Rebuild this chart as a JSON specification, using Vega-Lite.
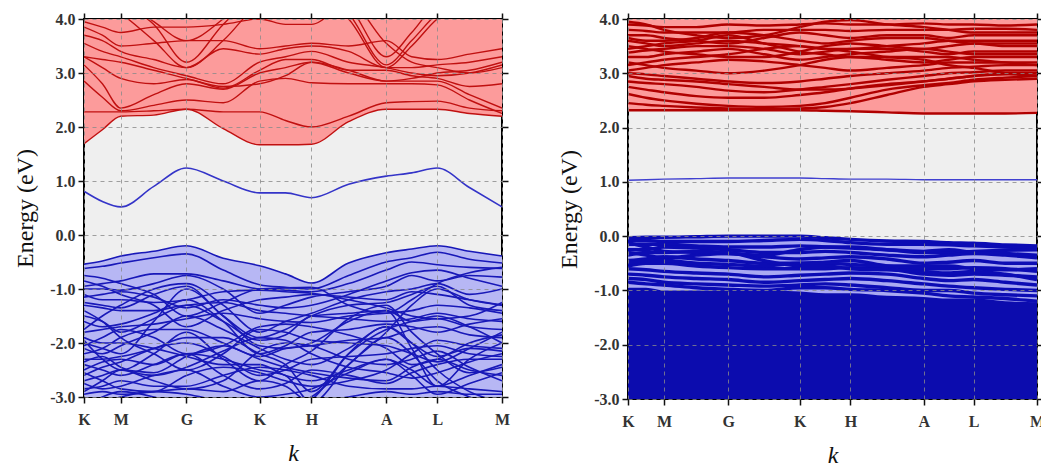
{
"$schema":"https://vega.github.io/schema/vega-lite/v6.json",
"padding":{"left":12,"top":10,"right":0,"bottom":0},
"spacing":45,
"config":{"view":{"stroke":"black","strokeWidth":2,"fill":"#efefef"},
"axis":{"labelFont":"Liberation Serif","titleFont":"Liberation Serif","labelColor":"#333","titleColor":"#111","tickColor":"#111","tickWidth":1.5,"tickSize":6,"domain":false}},
"datasets":{
"L":[
{"k":0,"c1":1.69,"c2":2.28,"c3":2.85,"c4":3.15,"c5":3.3,"c6":3.55,"c7":3.7,"c8":3.85,"c9":4.4,"c10":4.5,"c11":4.6,"c12":3.95,"c13":3.3,"m":0.81,"v1":-0.54,"v2":-0.62,"v3":-0.95,"v4":-1.0,"v5":-1.75,"v6":-1.25,"v7":-1.1,"v8":-1.3,"v9":-2.0,"v10":-2.1,"v11":-2.3,"v12":-2.5,"v13":-1.9,"v14":-2.7,"v15":-2.85,"v16":-2.95,"v17":-1.5,"v18":-1.8,"v19":-2.2,"v20":-2.6,"v21":-3.2,"v22":-3.2,"v23":-0.75,"v24":-2.4,"v25":-1.4,"v26":-2.9,"v27":-0.85,"v28":-1.6,"v29":-2.05,"v30":-2.35,"v31":-2.75,"v32":-1.15,"v33":-1.95,"v34":-2.55},
{"k":0.044,"c1":1.95,"c2":2.28,"c3":2.55,"c4":2.8,"c5":3.1,"c6":3.4,"c7":3.6,"c8":3.7,"c9":4.3,"c10":4.4,"c11":4.5,"c12":3.85,"c13":3.25,"m":0.62,"v1":-0.48,"v2":-0.58,"v3":-0.9,"v4":-1.0,"v5":-1.5,"v6":-1.3,"v7":-1.2,"v8":-1.35,"v9":-2.1,"v10":-2.2,"v11":-2.3,"v12":-2.35,"v13":-2.0,"v14":-2.6,"v15":-2.8,"v16":-2.9,"v17":-1.6,"v18":-1.75,"v19":-2.1,"v20":-2.45,"v21":-3.0,"v22":-3.1,"v23":-0.8,"v24":-2.5,"v25":-1.6,"v26":-2.7,"v27":-0.95,"v28":-1.7,"v29":-1.9,"v30":-2.25,"v31":-2.85,"v32":-1.1,"v33":-2.3,"v34":-2.7},
{"k":0.088,"c1":2.2,"c2":2.28,"c3":2.3,"c4":2.35,"c5":2.9,"c6":3.3,"c7":3.4,"c8":3.5,"c9":4.1,"c10":4.3,"c11":4.4,"c12":3.75,"c13":3.2,"m":0.52,"v1":-0.39,"v2":-0.52,"v3":-0.85,"v4":-1.02,"v5":-1.3,"v6":-1.35,"v7":-1.2,"v8":-1.4,"v9":-2.2,"v10":-2.05,"v11":-2.25,"v12":-2.3,"v13":-2.0,"v14":-2.5,"v15":-2.7,"v16":-2.95,"v17":-1.8,"v18":-1.7,"v19":-1.9,"v20":-2.35,"v21":-2.9,"v22":-3.0,"v23":-0.9,"v24":-2.6,"v25":-1.9,"v26":-2.5,"v27":-1.1,"v28":-1.65,"v29":-1.75,"v30":-2.45,"v31":-2.8,"v32":-1.05,"v33":-2.5,"v34":-2.85},
{"k":0.167,"c1":2.22,"c2":2.3,"c3":2.4,"c4":2.6,"c5":2.8,"c6":3.1,"c7":3.25,"c8":3.55,"c9":3.6,"c10":3.9,"c11":3.95,"c12":3.85,"c13":3.05,"m":0.9,"v1":-0.3,"v2":-0.42,"v3":-0.72,"v4":-0.9,"v5":-1.0,"v6":-1.1,"v7":-1.25,"v8":-1.4,"v9":-1.6,"v10":-1.8,"v11":-2.1,"v12":-2.4,"v13":-2.1,"v14":-2.55,"v15":-2.8,"v16":-2.9,"v17":-1.55,"v18":-1.65,"v19":-1.75,"v20":-2.1,"v21":-3.0,"v22":-2.9,"v23":-1.1,"v24":-2.4,"v25":-2.2,"v26":-2.7,"v27":-1.3,"v28":-1.45,"v29":-1.9,"v30":-2.6,"v31":-2.6,"v32":-1.15,"v33":-2.2,"v34":-2.9},
{"k":0.245,"c1":2.33,"c2":2.33,"c3":2.5,"c4":2.8,"c5":2.88,"c6":2.95,"c7":3.1,"c8":3.6,"c9":3.1,"c10":3.2,"c11":3.6,"c12":3.85,"c13":2.9,"m":1.24,"v1":-0.2,"v2":-0.35,"v3":-0.72,"v4":-0.75,"v5":-0.9,"v6":-0.95,"v7":-1.2,"v8":-1.3,"v9":-1.0,"v10":-1.5,"v11":-1.9,"v12":-2.2,"v13":-2.25,"v14":-2.25,"v15":-2.8,"v16":-2.85,"v17":-1.3,"v18":-1.55,"v19":-1.75,"v20":-2.0,"v21":-3.2,"v22":-2.95,"v23":-1.5,"v24":-2.2,"v25":-2.5,"v26":-2.85,"v27":-1.7,"v28":-1.2,"v29":-2.2,"v30":-2.45,"v31":-2.5,"v32":-1.35,"v33":-1.8,"v34":-2.6},
{"k":0.333,"c1":1.97,"c2":2.28,"c3":2.45,"c4":2.7,"c5":2.72,"c6":2.8,"c7":3.45,"c8":3.6,"c9":3.6,"c10":3.9,"c11":4.0,"c12":3.9,"c13":2.75,"m":1.0,"v1":-0.43,"v2":-0.65,"v3":-0.85,"v4":-1.0,"v5":-1.3,"v6":-1.5,"v7":-1.05,"v8":-1.6,"v9":-1.5,"v10":-1.75,"v11":-1.9,"v12":-2.3,"v13":-2.4,"v14":-2.05,"v15":-2.6,"v16":-2.9,"v17":-1.25,"v18":-1.45,"v19":-2.0,"v20":-2.25,"v21":-3.3,"v22":-3.1,"v23":-1.25,"v24":-2.6,"v25":-2.2,"v26":-2.7,"v27":-1.4,"v28":-1.6,"v29":-2.05,"v30":-2.15,"v31":-2.8,"v32":-1.2,"v33":-2.3,"v34":-2.45},
{"k":0.42,"c1":1.67,"c2":2.28,"c3":2.85,"c4":3.0,"c5":3.05,"c6":3.2,"c7":3.35,"c8":3.45,"c9":4.3,"c10":4.5,"c11":4.6,"c12":4.0,"c13":2.8,"m":0.78,"v1":-0.57,"v2":-0.92,"v3":-1.0,"v4":-1.45,"v5":-1.8,"v6":-1.9,"v7":-1.02,"v8":-1.95,"v9":-2.05,"v10":-2.1,"v11":-2.2,"v12":-2.5,"v13":-2.4,"v14":-2.3,"v15":-2.45,"v16":-2.7,"v17":-1.4,"v18":-1.55,"v19":-2.25,"v20":-2.6,"v21":-3.4,"v22":-3.3,"v23":-1.0,"v24":-2.85,"v25":-1.75,"v26":-2.15,"v27":-1.2,"v28":-2.2,"v29":-1.7,"v30":-1.9,"v31":-3.0,"v32":-1.3,"v33":-2.7,"v34":-2.55},
{"k":0.482,"c1":1.67,"c2":2.12,"c3":2.9,"c4":3.1,"c5":3.25,"c6":3.3,"c7":3.45,"c8":3.5,"c9":4.5,"c10":4.6,"c11":4.6,"c12":3.9,"c13":2.95,"m":0.78,"v1":-0.72,"v2":-0.97,"v3":-1.02,"v4":-1.3,"v5":-1.6,"v6":-1.75,"v7":-1.05,"v8":-1.85,"v9":-2.1,"v10":-2.3,"v11":-2.4,"v12":-2.6,"v13":-2.6,"v14":-2.45,"v15":-2.5,"v16":-2.8,"v17":-1.45,"v18":-1.6,"v19":-2.1,"v20":-2.5,"v21":-3.2,"v22":-3.2,"v23":-0.98,"v24":-2.75,"v25":-1.8,"v26":-2.0,"v27":-1.15,"v28":-2.05,"v29":-1.65,"v30":-1.95,"v31":-2.95,"v32":-1.35,"v33":-2.4,"v34":-2.7},
{"k":0.544,"c1":1.68,"c2":2.0,"c3":2.82,"c4":3.2,"c5":3.25,"c6":3.4,"c7":3.5,"c8":3.55,"c9":4.5,"c10":4.6,"c11":4.6,"c12":3.9,"c13":3.2,"m":0.69,"v1":-0.89,"v2":-1.0,"v3":-1.05,"v4":-1.15,"v5":-1.45,"v6":-1.5,"v7":-1.08,"v8":-1.5,"v9":-2.0,"v10":-2.4,"v11":-2.9,"v12":-3.1,"v13":-2.7,"v14":-2.55,"v15":-2.6,"v16":-3.1,"v17":-1.5,"v18":-1.62,"v19":-2.05,"v20":-2.3,"v21":-3.05,"v22":-3.0,"v23":-0.97,"v24":-2.5,"v25":-1.95,"v26":-2.05,"v27":-1.1,"v28":-1.8,"v29":-1.7,"v30":-2.2,"v31":-2.85,"v32":-1.3,"v33":-2.15,"v34":-2.8},
{"k":0.633,"c1":2.1,"c2":2.2,"c3":2.8,"c4":3.0,"c5":3.05,"c6":3.2,"c7":3.4,"c8":3.5,"c9":4.0,"c10":4.1,"c11":4.25,"c12":4.3,"c13":3.05,"m":0.94,"v1":-0.52,"v2":-0.75,"v3":-0.9,"v4":-1.05,"v5":-1.2,"v6":-1.3,"v7":-1.2,"v8":-1.45,"v9":-1.6,"v10":-2.1,"v11":-2.2,"v12":-2.4,"v13":-2.5,"v14":-2.65,"v15":-2.8,"v16":-3.0,"v17":-1.55,"v18":-1.5,"v19":-1.95,"v20":-2.25,"v21":-2.2,"v22":-2.4,"v23":-1.3,"v24":-2.6,"v25":-2.0,"v26":-2.3,"v27":-1.15,"v28":-1.75,"v29":-1.85,"v30":-2.45,"v31":-2.55,"v32":-1.1,"v33":-1.55,"v34":-2.7},
{"k":0.723,"c1":2.33,"c2":2.45,"c3":2.8,"c4":2.85,"c5":3.05,"c6":3.1,"c7":3.1,"c8":3.6,"c9":3.1,"c10":3.15,"c11":3.3,"c12":3.55,"c13":2.85,"m":1.09,"v1":-0.33,"v2":-0.5,"v3":-0.65,"v4":-0.95,"v5":-1.05,"v6":-1.25,"v7":-1.35,"v8":-1.4,"v9":-1.4,"v10":-1.7,"v11":-1.75,"v12":-1.8,"v13":-2.3,"v14":-2.7,"v15":-2.85,"v16":-2.9,"v17":-1.6,"v18":-1.45,"v19":-1.9,"v20":-2.2,"v21":-1.7,"v22":-1.9,"v23":-1.45,"v24":-2.75,"v25":-2.05,"v26":-2.4,"v27":-1.2,"v28":-1.65,"v29":-2.1,"v30":-2.55,"v31":-2.3,"v32":-0.85,"v33":-1.3,"v34":-2.5},
{"k":0.784,"c1":2.33,"c2":2.47,"c3":2.8,"c4":2.85,"c5":2.95,"c6":3.0,"c7":3.1,"c8":3.3,"c9":3.5,"c10":3.6,"c11":3.75,"c12":3.2,"c13":2.9,"m":1.15,"v1":-0.26,"v2":-0.42,"v3":-0.5,"v4":-0.75,"v5":-1.0,"v6":-1.1,"v7":-1.5,"v8":-1.6,"v9":-2.1,"v10":-2.0,"v11":-1.6,"v12":-1.3,"v13":-2.5,"v14":-2.45,"v15":-2.85,"v16":-2.95,"v17":-1.55,"v18":-1.4,"v19":-1.75,"v20":-2.1,"v21":-2.0,"v22":-2.2,"v23":-1.2,"v24":-2.55,"v25":-2.2,"v26":-2.3,"v27":-1.05,"v28":-1.7,"v29":-2.4,"v30":-2.65,"v31":-2.6,"v32":-0.7,"v33":-1.8,"v34":-2.2},
{"k":0.845,"c1":2.33,"c2":2.48,"c3":2.78,"c4":2.85,"c5":2.9,"c6":2.95,"c7":3.15,"c8":3.25,"c9":4.0,"c10":4.1,"c11":4.3,"c12":3.1,"c13":3.0,"m":1.24,"v1":-0.2,"v2":-0.32,"v3":-0.55,"v4":-0.85,"v5":-0.9,"v6":-0.95,"v7":-1.55,"v8":-1.55,"v9":-2.8,"v10":-2.25,"v11":-1.5,"v12":-1.0,"v13":-2.8,"v14":-2.3,"v15":-2.8,"v16":-2.9,"v17":-1.45,"v18":-1.3,"v19":-1.7,"v20":-2.05,"v21":-2.5,"v22":-2.7,"v23":-0.9,"v24":-2.4,"v25":-2.35,"v26":-2.15,"v27":-1.1,"v28":-1.8,"v29":-2.3,"v30":-2.55,"v31":-2.95,"v32":-0.65,"v33":-2.2,"v34":-1.95},
{"k":0.922,"c1":2.25,"c2":2.35,"c3":2.5,"c4":2.6,"c5":2.75,"c6":3.0,"c7":3.2,"c8":3.35,"c9":4.3,"c10":4.4,"c11":4.5,"c12":3.0,"c13":3.05,"m":0.88,"v1":-0.3,"v2":-0.45,"v3":-0.6,"v4":-0.75,"v5":-1.1,"v6":-1.3,"v7":-1.5,"v8":-1.7,"v9":-2.3,"v10":-2.1,"v11":-1.7,"v12":-1.2,"v13":-2.6,"v14":-2.5,"v15":-2.85,"v16":-2.95,"v17":-1.55,"v18":-1.35,"v19":-1.85,"v20":-2.2,"v21":-2.9,"v22":-3.0,"v23":-0.7,"v24":-2.3,"v25":-2.1,"v26":-2.45,"v27":-1.2,"v28":-1.65,"v29":-2.0,"v30":-2.35,"v31":-2.75,"v32":-0.8,"v33":-2.55,"v34":-2.05},
{"k":1,"c1":2.2,"c2":2.3,"c3":2.25,"c4":2.35,"c5":2.8,"c6":3.15,"c7":3.3,"c8":3.45,"c9":4.4,"c10":4.5,"c11":4.6,"c12":3.1,"c13":3.2,"m":0.52,"v1":-0.39,"v2":-0.52,"v3":-0.62,"v4":-0.78,"v5":-1.0,"v6":-1.4,"v7":-1.25,"v8":-1.75,"v9":-2.0,"v10":-2.15,"v11":-2.0,"v12":-1.3,"v13":-2.4,"v14":-2.6,"v15":-2.9,"v16":-2.95,"v17":-1.6,"v18":-1.45,"v19":-1.9,"v20":-2.25,"v21":-3.1,"v22":-3.2,"v23":-0.6,"v24":-2.3,"v25":-1.8,"v26":-2.7,"v27":-1.3,"v28":-1.55,"v29":-1.85,"v30":-2.2,"v31":-2.55,"v32":-0.95,"v33":-2.45,"v34":-2.1}
],
"R":[
{"k":0,"r1":2.32,"r2":2.45,"r3":2.62,"r4":2.75,"r5":2.85,"r6":3.0,"r7":3.05,"r8":3.2,"r9":3.3,"r10":3.5,"r11":3.6,"r12":3.7,"r13":3.8,"r14":3.9,"r15":3.45,"r16":3.15,"r17":2.95,"r18":3.95,"r19":3.65,"r20":3.38,"m":1.03,"b1":-0.03,"b2":-0.08,"b3":-0.15,"b4":-0.25,"b5":-0.3,"b6":-0.45,"b7":-0.55,"b8":-0.6,"b9":-0.7,"b10":-0.78,"b11":-0.85,"b12":-0.12,"b13":-0.5,"b14":-0.35,"d":-0.95},
{"k":0.044,"r1":2.32,"r2":2.42,"r3":2.55,"r4":2.7,"r5":2.82,"r6":2.98,"r7":3.1,"r8":3.15,"r9":3.3,"r10":3.45,"r11":3.55,"r12":3.7,"r13":3.78,"r14":3.88,"r15":3.5,"r16":3.2,"r17":2.9,"r18":3.9,"r19":3.6,"r20":3.42,"m":1.04,"b1":-0.02,"b2":-0.08,"b3":-0.15,"b4":-0.25,"b5":-0.35,"b6":-0.42,"b7":-0.5,"b8":-0.62,"b9":-0.72,"b10":-0.8,"b11":-0.88,"b12":-0.2,"b13":-0.45,"b14":-0.3,"d":-0.95},
{"k":0.088,"r1":2.32,"r2":2.4,"r3":2.5,"r4":2.65,"r5":2.8,"r6":2.95,"r7":3.15,"r8":3.1,"r9":3.35,"r10":3.4,"r11":3.5,"r12":3.65,"r13":3.75,"r14":3.85,"r15":3.55,"r16":3.25,"r17":2.88,"r18":3.8,"r19":3.6,"r20":3.45,"m":1.05,"b1":-0.02,"b2":-0.1,"b3":-0.15,"b4":-0.2,"b5":-0.4,"b6":-0.38,"b7":-0.5,"b8":-0.65,"b9":-0.75,"b10":-0.85,"b11":-0.9,"b12":-0.28,"b13":-0.45,"b14":-0.3,"d":-1.0},
{"k":0.167,"r1":2.32,"r2":2.37,"r3":2.44,"r4":2.58,"r5":2.75,"r6":2.9,"r7":3.2,"r8":3.05,"r9":3.4,"r10":3.35,"r11":3.55,"r12":3.6,"r13":3.75,"r14":3.85,"r15":3.6,"r16":3.3,"r17":2.85,"r18":3.7,"r19":3.65,"r20":3.5,"m":1.06,"b1":-0.01,"b2":-0.1,"b3":-0.18,"b4":-0.22,"b5":-0.35,"b6":-0.42,"b7":-0.55,"b8":-0.68,"b9":-0.78,"b10":-0.88,"b11":-0.95,"b12":-0.3,"b13":-0.5,"b14":-0.28,"d":-1.0},
{"k":0.245,"r1":2.32,"r2":2.35,"r3":2.4,"r4":2.55,"r5":2.68,"r6":2.85,"r7":3.25,"r8":3.0,"r9":3.45,"r10":3.3,"r11":3.6,"r12":3.55,"r13":3.75,"r14":3.9,"r15":3.7,"r16":3.35,"r17":2.8,"r18":3.65,"r19":3.75,"r20":3.5,"m":1.07,"b1":0.0,"b2":-0.1,"b3":-0.2,"b4":-0.25,"b5":-0.32,"b6":-0.45,"b7":-0.58,"b8":-0.7,"b9":-0.8,"b10":-0.9,"b11":-0.98,"b12":-0.32,"b13":-0.52,"b14":-0.3,"d":-1.0},
{"k":0.333,"r1":2.32,"r2":2.34,"r3":2.38,"r4":2.55,"r5":2.65,"r6":2.82,"r7":3.22,"r8":3.05,"r9":3.35,"r10":3.3,"r11":3.55,"r12":3.65,"r13":3.8,"r14":3.88,"r15":3.55,"r16":3.45,"r17":2.75,"r18":3.7,"r19":3.7,"r20":3.45,"m":1.07,"b1":0.0,"b2":-0.08,"b3":-0.2,"b4":-0.3,"b5":-0.38,"b6":-0.5,"b7":-0.6,"b8":-0.75,"b9":-0.85,"b10":-0.92,"b11":-1.0,"b12":-0.35,"b13":-0.55,"b14":-0.45,"d":-1.0},
{"k":0.42,"r1":2.32,"r2":2.35,"r3":2.4,"r4":2.6,"r5":2.7,"r6":2.85,"r7":3.15,"r8":3.15,"r9":3.25,"r10":3.4,"r11":3.5,"r12":3.75,"r13":3.8,"r14":3.9,"r15":3.4,"r16":3.5,"r17":2.7,"r18":3.85,"r19":3.6,"r20":3.35,"m":1.07,"b1":0.0,"b2":-0.06,"b3":-0.18,"b4":-0.3,"b5":-0.42,"b6":-0.5,"b7":-0.6,"b8":-0.72,"b9":-0.82,"b10":-0.9,"b11":-0.95,"b12":-0.25,"b13":-0.5,"b14":-0.55,"d":-1.02},
{"k":0.482,"r1":2.31,"r2":2.38,"r3":2.45,"r4":2.65,"r5":2.75,"r6":2.9,"r7":3.1,"r8":3.25,"r9":3.3,"r10":3.5,"r11":3.45,"r12":3.7,"r13":3.8,"r14":3.92,"r15":3.35,"r16":3.45,"r17":2.7,"r18":3.95,"r19":3.55,"r20":3.4,"m":1.06,"b1":-0.03,"b2":-0.08,"b3":-0.2,"b4":-0.28,"b5":-0.4,"b6":-0.48,"b7":-0.6,"b8":-0.7,"b9":-0.8,"b10":-0.88,"b11":-0.95,"b12":-0.2,"b13":-0.5,"b14":-0.55,"d":-1.05},
{"k":0.544,"r1":2.3,"r2":2.45,"r3":2.55,"r4":2.72,"r5":2.8,"r6":2.95,"r7":3.05,"r8":3.3,"r9":3.35,"r10":3.55,"r11":3.45,"r12":3.65,"r13":3.78,"r14":3.9,"r15":3.3,"r16":3.4,"r17":2.72,"r18":3.98,"r19":3.6,"r20":3.45,"m":1.05,"b1":-0.06,"b2":-0.12,"b3":-0.22,"b4":-0.3,"b5":-0.38,"b6":-0.45,"b7":-0.58,"b8":-0.68,"b9":-0.78,"b10":-0.9,"b11":-0.98,"b12":-0.2,"b13":-0.52,"b14":-0.6,"d":-1.05},
{"k":0.633,"r1":2.28,"r2":2.6,"r3":2.7,"r4":2.8,"r5":2.88,"r6":3.0,"r7":3.1,"r8":3.25,"r9":3.4,"r10":3.5,"r11":3.5,"r12":3.7,"r13":3.8,"r14":3.9,"r15":3.3,"r16":3.3,"r17":2.78,"r18":3.9,"r19":3.65,"r20":3.45,"m":1.05,"b1":-0.09,"b2":-0.15,"b3":-0.25,"b4":-0.35,"b5":-0.42,"b6":-0.55,"b7":-0.6,"b8":-0.7,"b9":-0.82,"b10":-0.95,"b11":-1.0,"b12":-0.25,"b13":-0.55,"b14":-0.62,"d":-1.1},
{"k":0.723,"r1":2.26,"r2":2.75,"r3":2.78,"r4":2.85,"r5":2.95,"r6":3.05,"r7":3.15,"r8":3.2,"r9":3.45,"r10":3.45,"r11":3.55,"r12":3.7,"r13":3.8,"r14":3.92,"r15":3.3,"r16":3.25,"r17":2.85,"r18":3.85,"r19":3.65,"r20":3.4,"m":1.04,"b1":-0.1,"b2":-0.15,"b3":-0.3,"b4":-0.38,"b5":-0.5,"b6":-0.6,"b7":-0.7,"b8":-0.78,"b9":-0.88,"b10":-1.0,"b11":-1.05,"b12":-0.28,"b13":-0.55,"b14":-0.65,"d":-1.12},
{"k":0.784,"r1":2.26,"r2":2.8,"r3":2.82,"r4":2.9,"r5":3.0,"r6":3.1,"r7":3.2,"r8":3.25,"r9":3.4,"r10":3.5,"r11":3.6,"r12":3.65,"r13":3.8,"r14":3.9,"r15":3.3,"r16":3.15,"r17":2.9,"r18":3.8,"r19":3.6,"r20":3.35,"m":1.04,"b1":-0.12,"b2":-0.16,"b3":-0.3,"b4":-0.35,"b5":-0.48,"b6":-0.6,"b7":-0.72,"b8":-0.82,"b9":-0.92,"b10":-1.0,"b11":-1.1,"b12":-0.25,"b13":-0.55,"b14":-0.68,"d":-1.15},
{"k":0.845,"r1":2.26,"r2":2.85,"r3":2.88,"r4":2.95,"r5":3.02,"r6":3.12,"r7":3.2,"r8":3.3,"r9":3.35,"r10":3.55,"r11":3.6,"r12":3.7,"r13":3.82,"r14":3.9,"r15":3.25,"r16":3.1,"r17":2.95,"r18":3.75,"r19":3.55,"r20":3.4,"m":1.04,"b1":-0.13,"b2":-0.18,"b3":-0.28,"b4":-0.32,"b5":-0.45,"b6":-0.58,"b7":-0.7,"b8":-0.8,"b9":-0.95,"b10":-1.05,"b11":-1.12,"b12":-0.3,"b13":-0.6,"b14":-0.65,"d":-1.15},
{"k":0.922,"r1":2.26,"r2":2.88,"r3":2.92,"r4":2.98,"r5":3.05,"r6":3.15,"r7":3.2,"r8":3.3,"r9":3.35,"r10":3.5,"r11":3.6,"r12":3.7,"r13":3.82,"r14":3.88,"r15":3.2,"r16":3.0,"r17":3.0,"r18":3.75,"r19":3.55,"r20":3.4,"m":1.04,"b1":-0.16,"b2":-0.2,"b3":-0.26,"b4":-0.35,"b5":-0.5,"b6":-0.6,"b7":-0.72,"b8":-0.85,"b9":-0.98,"b10":-1.08,"b11":-1.15,"b12":-0.32,"b13":-0.62,"b14":-0.7,"d":-1.2},
{"k":1,"r1":2.27,"r2":2.9,"r3":2.95,"r4":3.0,"r5":3.05,"r6":3.15,"r7":3.2,"r8":3.3,"r9":3.35,"r10":3.5,"r11":3.6,"r12":3.7,"r13":3.8,"r14":3.9,"r15":3.15,"r16":2.95,"r17":3.0,"r18":3.75,"r19":3.55,"r20":3.4,"m":1.04,"b1":-0.18,"b2":-0.22,"b3":-0.25,"b4":-0.4,"b5":-0.5,"b6":-0.65,"b7":-0.75,"b8":-0.9,"b9":-1.0,"b10":-1.1,"b11":-1.2,"b12":-0.35,"b13":-0.6,"b14":-0.8,"d":-1.22}
]},
"hconcat":[
{"width":418,"height":378,"data":{"name":"L"},
"resolve":{"axis":{"x":"independent","y":"independent"}},
"layer":[
{"mark":{"type":"area","color":"#fc9b9b","interpolate":"monotone","clip":true},
"encoding":{"x":{"field":"k","type":"quantitative","scale":{"domain":[0,1],"nice":false,"zero":false},
"axis":{"values":[0,0.088,0.245,0.42,0.544,0.723,0.845,1],"labelExpr":"datum.value < 0.05 ? 'K' : datum.value < 0.15 ? 'M' : datum.value < 0.3 ? 'G' : datum.value < 0.5 ? 'K' : datum.value < 0.6 ? 'H' : datum.value < 0.8 ? 'A' : datum.value < 0.9 ? 'L' : 'M'","title":"k","titleFontStyle":"italic","titleFontWeight":"normal","titleFontSize":24,"titlePadding":14,"labelFontSize":16,"labelFontWeight":"bold","labelPadding":8,"labelFlush":false,"grid":true,"gridDash":[4,4],"gridColor":"#8a8a8a","gridOpacity":0.8,"zindex":1}},
"y":{"field":"c1","type":"quantitative","scale":{"domain":[-3,4],"nice":false,"zero":false},
"axis":{"values":[-3,-2,-1,0,1,2,3,4],"labelExpr":"datum.value < 0 ? '-' + format(-datum.value, '.1f') : format(datum.value, '.1f')","title":"Energy (eV)","titleFontSize":24,"titleFontWeight":"normal","titlePadding":12,"labelFontSize":16,"labelFontWeight":"bold","labelPadding":3,"grid":true,"gridDash":[4,4],"gridColor":"#8a8a8a","gridOpacity":0.8,"zindex":1}},
"y2":{"datum":4}}},
{"mark":{"type":"area","color":"#b7b7f4","interpolate":"monotone","clip":true},
"encoding":{"x":{"field":"k","type":"quantitative","axis":{"orient":"top","values":[0,0.088,0.245,0.42,0.544,0.723,0.845,1],"labels":false,"title":null,"grid":false}},
"y":{"field":"v1","type":"quantitative","axis":{"orient":"right","values":[-3,-2,-1,0,1,2,3,4],"labels":false,"title":null,"grid":false}},
"y2":{"datum":-3}}},
{"transform":[{"fold":["c1","c2","c3","c4","c5","c6","c7","c8","c9","c10","c11","c12","c13"],"as":["b","e"]}],
"mark":{"type":"line","color":"#c01010","strokeWidth":1.4,"interpolate":"monotone","clip":true},
"encoding":{"x":{"field":"k","type":"quantitative","axis":null},"y":{"field":"e","type":"quantitative","axis":null},"detail":{"field":"b"}}},
{"mark":{"type":"line","color":"#3434c8","strokeWidth":1.6,"interpolate":"monotone","clip":true},
"encoding":{"x":{"field":"k","type":"quantitative","axis":null},"y":{"field":"m","type":"quantitative","axis":null}}},
{"transform":[{"fold":["v1","v2","v3","v4","v5","v6","v7","v8","v9","v10","v11","v12","v13","v14","v15","v16","v17","v18","v19","v20","v21","v22","v23","v24","v25","v26","v27","v28","v29","v30","v31","v32","v33","v34"],"as":["b","e"]}],
"mark":{"type":"line","color":"#1818b8","strokeWidth":1.6,"interpolate":"monotone","clip":true},
"encoding":{"x":{"field":"k","type":"quantitative","axis":null},"y":{"field":"e","type":"quantitative","axis":null},"detail":{"field":"b"}}}
]},
{"width":409,"height":380,"data":{"name":"R"},
"resolve":{"axis":{"x":"independent","y":"independent"}},
"layer":[
{"mark":{"type":"area","color":"#fc9b9b","interpolate":"monotone","clip":true},
"encoding":{"x":{"field":"k","type":"quantitative","scale":{"domain":[0,1],"nice":false,"zero":false},
"axis":{"values":[0,0.088,0.245,0.42,0.544,0.723,0.845,1],"labelExpr":"datum.value < 0.05 ? 'K' : datum.value < 0.15 ? 'M' : datum.value < 0.3 ? 'G' : datum.value < 0.5 ? 'K' : datum.value < 0.6 ? 'H' : datum.value < 0.8 ? 'A' : datum.value < 0.9 ? 'L' : 'M'","title":"k","titleFontStyle":"italic","titleFontWeight":"normal","titleFontSize":24,"titlePadding":14,"labelFontSize":16,"labelFontWeight":"bold","labelPadding":8,"labelFlush":false,"grid":true,"gridDash":[4,4],"gridColor":"#8a8a8a","gridOpacity":0.8,"zindex":1}},
"y":{"field":"r1","type":"quantitative","scale":{"domain":[-3,4],"nice":false,"zero":false},
"axis":{"values":[-3,-2,-1,0,1,2,3,4],"labelExpr":"datum.value < 0 ? '-' + format(-datum.value, '.1f') : format(datum.value, '.1f')","title":"Energy (eV)","titleFontSize":24,"titleFontWeight":"normal","titlePadding":12,"labelFontSize":16,"labelFontWeight":"bold","labelPadding":3,"grid":true,"gridDash":[4,4],"gridColor":"#8a8a8a","gridOpacity":0.8,"zindex":1}},
"y2":{"datum":4}}},
{"mark":{"type":"area","color":"#a9a9f2","interpolate":"monotone","clip":true},
"encoding":{"x":{"field":"k","type":"quantitative","axis":{"orient":"top","values":[0,0.088,0.245,0.42,0.544,0.723,0.845,1],"labels":false,"title":null,"grid":false}},
"y":{"field":"b1","type":"quantitative","axis":{"orient":"right","values":[-3,-2,-1,0,1,2,3,4],"labels":false,"title":null,"grid":false}},
"y2":{"datum":-3}}},
{"mark":{"type":"area","color":"#0c0cae","interpolate":"monotone","clip":true},
"encoding":{"x":{"field":"k","type":"quantitative","axis":null},"y":{"field":"d","type":"quantitative","axis":null},"y2":{"datum":-3}}},
{"transform":[{"fold":["r1","r2","r3","r4","r5","r6","r7","r8","r9","r10","r11","r12","r13","r14","r15","r16","r17","r18","r19","r20"],"as":["b","e"]}],
"mark":{"type":"line","color":"#b00000","strokeWidth":2.4,"interpolate":"monotone","clip":true},
"encoding":{"x":{"field":"k","type":"quantitative","axis":null},"y":{"field":"e","type":"quantitative","axis":null},"detail":{"field":"b"}}},
{"mark":{"type":"line","color":"#4040d0","strokeWidth":1.4,"interpolate":"monotone","clip":true},
"encoding":{"x":{"field":"k","type":"quantitative","axis":null},"y":{"field":"m","type":"quantitative","axis":null}}},
{"transform":[{"fold":["b1","b2","b3","b4","b5","b6","b7","b8","b9","b10","b11","b12","b13","b14"],"as":["b","e"]}],
"mark":{"type":"line","color":"#0c0cb4","strokeWidth":3.4,"interpolate":"monotone","clip":true},
"encoding":{"x":{"field":"k","type":"quantitative","axis":null},"y":{"field":"e","type":"quantitative","axis":null},"detail":{"field":"b"}}}
]}
]
}
